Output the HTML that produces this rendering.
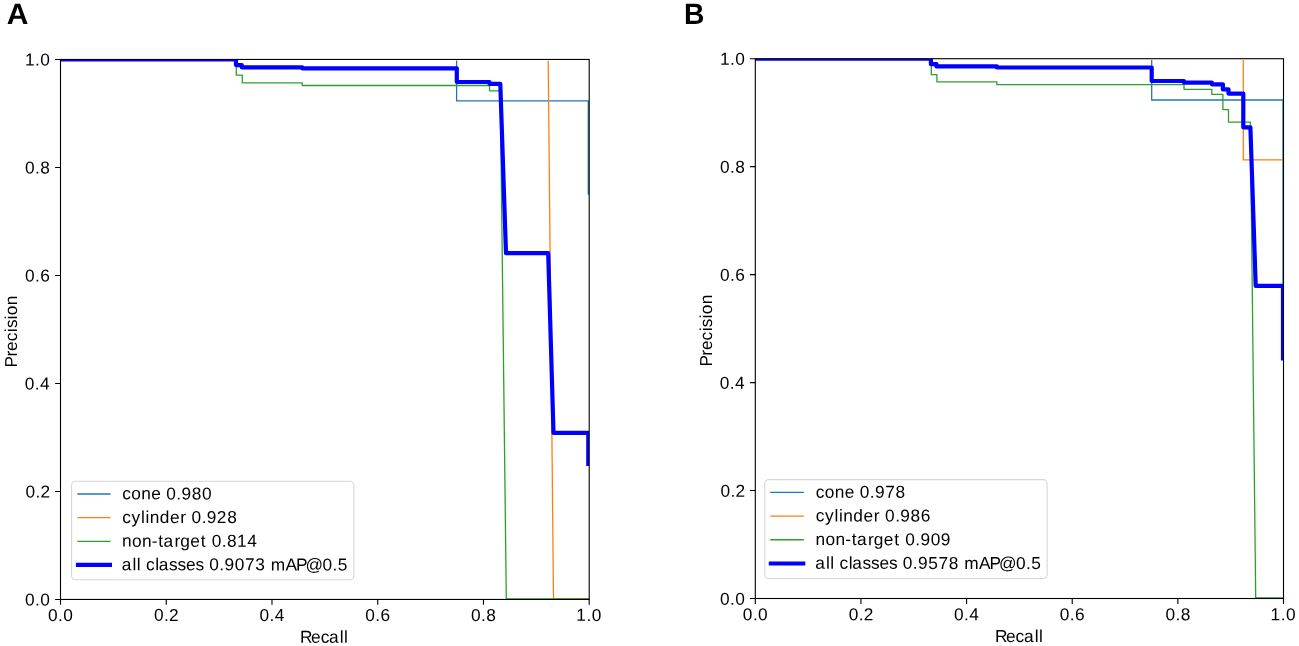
<!DOCTYPE html>
<html><head><meta charset="utf-8"><title>Precision-Recall curves</title>
<style>html,body{margin:0;padding:0;background:#fff;overflow:hidden;}svg{display:block;will-change:transform;}
text{font-family:"Liberation Sans", sans-serif;font-size:17.3px;fill:#000;text-rendering:geometricPrecision;}
text.let{font-weight:bold;font-size:29.4px;}</style></head>
<body><svg width="1299" height="646" viewBox="0 0 1299 646">
<rect width="1299" height="646" fill="#fff"/>
<clipPath id="clipA"><rect x="60.5" y="59.45" width="528.70" height="540.00"/></clipPath>
<clipPath id="cliptA"><rect x="60.5" y="60.50" width="528.70" height="538.95"/></clipPath>
<g clip-path="url(#cliptA)" fill="none" stroke-linejoin="round" stroke-linecap="square">
<polyline points="60.50,59.45 456.60,59.45 456.60,100.90 588.30,100.90 588.30,194.10" stroke="#1f77b4" stroke-width="1.3"/>
<polyline points="60.50,59.45 548.20,59.45 553.50,598.80 589.20,598.80" stroke="#ff7f0e" stroke-width="1.3"/>
<polyline points="60.50,59.45 236.30,59.45 236.30,75.20 242.30,75.20 242.30,82.90 302.20,82.90 302.20,85.50 489.50,85.50 489.50,90.80 500.30,90.80 506.30,598.80 589.20,598.80" stroke="#2ca02c" stroke-width="1.3"/>
</g>
<g clip-path="url(#clipA)" fill="none" stroke-linejoin="round" stroke-linecap="square">
<polyline points="60.50,59.45 236.00,59.45 236.00,65.10 241.80,65.10 241.80,67.30 302.20,67.30 302.20,68.30 456.80,68.30 456.80,82.00 489.50,82.00 489.50,83.80 500.30,83.80 506.00,253.10 548.20,253.10 553.50,432.85 588.30,432.85 588.30,463.90" stroke="#0000ff" stroke-width="4.2"/>
</g>
<rect x="60.5" y="59.45" width="528.70" height="540.00" fill="none" stroke="#000" stroke-width="1.1"/>
<path d="M60.50,599.45V604.85M60.5,599.45H55.10M166.24,599.45V604.85M60.5,491.45H55.10M271.98,599.45V604.85M60.5,383.45H55.10M377.72,599.45V604.85M60.5,275.45H55.10M483.46,599.45V604.85M60.5,167.45H55.10M589.20,599.45V604.85M60.5,59.45H55.10" stroke="#000" stroke-width="1.1" fill="none"/>
<rect x="71.6" y="481.2" width="282.2" height="98.6" rx="4" ry="4" fill="#fff" fill-opacity="0.8" stroke="#d6d6d6" stroke-width="1.1"/>
<path d="M78.0,494.00H109.9" stroke="#1f77b4" stroke-width="1.3" stroke-linecap="square" fill="none"/>
<path d="M78.0,517.65H109.9" stroke="#ff7f0e" stroke-width="1.3" stroke-linecap="square" fill="none"/>
<path d="M78.0,541.30H109.9" stroke="#2ca02c" stroke-width="1.3" stroke-linecap="square" fill="none"/>
<path d="M78.0,564.95H109.9" stroke="#0000ff" stroke-width="4.2" stroke-linecap="square" fill="none"/>
<clipPath id="clipB"><rect x="755.3" y="58.7" width="528.20" height="539.80"/></clipPath>
<clipPath id="cliptB"><rect x="755.3" y="60.00" width="528.20" height="538.50"/></clipPath>
<g clip-path="url(#cliptB)" fill="none" stroke-linejoin="round" stroke-linecap="square">
<polyline points="755.30,58.70 1151.70,58.70 1151.70,100.00 1283.00,100.00 1283.00,316.00" stroke="#1f77b4" stroke-width="1.3"/>
<polyline points="755.30,58.70 1243.30,58.70 1243.30,159.90 1283.50,159.90" stroke="#ff7f0e" stroke-width="1.3"/>
<polyline points="755.30,58.70 931.30,58.70 931.30,74.60 936.90,74.60 936.90,81.90 996.90,81.90 996.90,84.70 1184.00,84.70 1184.00,89.30 1211.80,89.30 1211.80,94.30 1222.90,94.30 1222.90,109.70 1228.50,109.70 1228.50,122.10 1250.40,122.10 1255.70,597.85 1283.50,597.85" stroke="#2ca02c" stroke-width="1.3"/>
</g>
<g clip-path="url(#clipB)" fill="none" stroke-linejoin="round" stroke-linecap="square">
<polyline points="755.30,58.70 930.90,58.70 930.90,64.20 936.50,64.20 936.50,66.40 996.90,66.40 996.90,67.50 1151.70,67.50 1151.70,81.00 1184.00,81.00 1184.00,82.60 1211.80,82.60 1211.80,84.30 1222.90,84.30 1222.90,89.40 1228.50,89.40 1228.50,93.60 1243.30,93.60 1243.30,127.30 1250.40,127.30 1255.70,285.90 1283.00,285.90 1283.00,358.30" stroke="#0000ff" stroke-width="4.2"/>
</g>
<rect x="755.3" y="58.7" width="528.20" height="539.80" fill="none" stroke="#000" stroke-width="1.1"/>
<path d="M755.30,598.5V603.90M755.3,598.50H749.90M860.94,598.5V603.90M755.3,490.54H749.90M966.58,598.5V603.90M755.3,382.58H749.90M1072.22,598.5V603.90M755.3,274.62H749.90M1177.86,598.5V603.90M755.3,166.66H749.90M1283.50,598.5V603.90M755.3,58.70H749.90" stroke="#000" stroke-width="1.1" fill="none"/>
<rect x="764.8" y="479.6" width="282.3" height="98.9" rx="4" ry="4" fill="#fff" fill-opacity="0.8" stroke="#d6d6d6" stroke-width="1.1"/>
<path d="M770.9,492.30H803.2" stroke="#1f77b4" stroke-width="1.3" stroke-linecap="square" fill="none"/>
<path d="M770.9,516.03H803.2" stroke="#ff7f0e" stroke-width="1.3" stroke-linecap="square" fill="none"/>
<path d="M770.9,539.76H803.2" stroke="#2ca02c" stroke-width="1.3" stroke-linecap="square" fill="none"/>
<path d="M770.9,563.49H803.2" stroke="#0000ff" stroke-width="4.2" stroke-linecap="square" fill="none"/>
<g transform="matrix(1,0.001,0,1,0,0)">
<text x="24.99 35.03 40.26" y="605.56">0.0</text>
<text x="48.06 58.09 63.32" y="620.84">0.0</text>
<text x="25.53 35.57 40.59" y="497.56">0.2</text>
<text x="154.07 164.10 169.12" y="620.73">0.2</text>
<text x="24.83 34.86 40.09" y="389.56">0.4</text>
<text x="259.45 269.49 274.72" y="620.63">0.4</text>
<text x="24.94 34.97 40.20" y="281.56">0.6</text>
<text x="365.25 375.29 380.51" y="620.52">0.6</text>
<text x="25.02 35.06 40.29" y="173.56">0.8</text>
<text x="471.03 481.07 486.30" y="620.42">0.8</text>
<text x="24.90 35.03 40.26" y="65.56">1.0</text>
<text x="576.31 586.44 591.67" y="620.31">1.0</text>
<text x="300.12 311.07 320.65 329.05 339.68 344.12" y="642.48">Recall</text>
<text transform="translate(17.00,330.88) rotate(-90)" x="-36.49 -25.70 -20.06 -10.48 -1.25 2.84 11.53 15.75 25.75" y="0.00">Precision</text>
<text class="let" transform="translate(17.50,23.88) scale(1.02,1)" x="-10.59" y="0">A</text>
<text x="122.25 131.25 141.25 151.24 160.94 166.30 176.34 181.51 191.74 201.92" y="499.23">cone 0.980</text>
<text x="122.25 131.57 140.93 145.39 149.82 159.84 169.96 180.37 186.24 191.60 201.64 206.82 216.84 227.23" y="522.87">cylinder 0.928</text>
<text x="122.09 132.03 142.02 151.87 158.33 163.39 174.42 180.22 190.35 200.74 206.32 211.68 221.72 226.95 237.03 247.31" y="546.51">non-target 0.814</text>
<text x="121.77 132.39 136.84 140.98 145.95 155.17 158.79 169.07 177.41 185.93 195.59 203.97 209.33 219.37 224.55 234.78 244.92 255.16 265.04 270.76 285.41 295.97 305.56 322.58 332.62 337.78" y="570.12">all classes 0.9073 mAP@0.5</text>
<text x="719.99 730.03 735.26" y="603.92">0.0</text>
<text x="742.86 752.89 758.12" y="619.54">0.0</text>
<text x="720.53 730.57 735.59" y="495.96">0.2</text>
<text x="848.77 858.80 863.82" y="619.44">0.2</text>
<text x="719.83 729.86 735.09" y="388.00">0.4</text>
<text x="954.05 964.09 969.32" y="619.33">0.4</text>
<text x="719.94 729.97 735.20" y="280.04">0.6</text>
<text x="1059.75 1069.79 1075.01" y="619.23">0.6</text>
<text x="720.02 730.06 735.29" y="172.08">0.8</text>
<text x="1165.43 1175.47 1180.70" y="619.12">0.8</text>
<text x="719.90 730.03 735.26" y="64.12">1.0</text>
<text x="1270.61 1280.74 1285.97" y="619.02">1.0</text>
<text x="995.07 1006.02 1015.60 1024.00 1034.63 1039.07" y="640.98">Recall</text>
<text transform="translate(711.80,329.34) rotate(-90)" x="-36.49 -25.70 -20.06 -10.48 -1.25 2.84 11.53 15.75 25.75" y="0.00">Precision</text>
<text class="let" transform="translate(694.50,23.21) scale(0.96,1)" x="-10.93" y="0">B</text>
<text x="815.75 824.75 834.75 844.74 854.44 859.80 869.84 875.01 885.21 895.42" y="496.84">cone 0.978</text>
<text x="815.75 825.07 834.43 838.89 843.32 853.34 863.46 873.87 879.74 885.10 895.14 900.32 910.55 920.73" y="520.56">cylinder 0.986</text>
<text x="815.59 825.53 835.52 845.37 851.83 856.89 867.92 873.72 883.85 894.24 899.82 905.18 915.22 920.40 930.63 940.76" y="544.28">non-target 0.909</text>
<text x="815.27 825.89 830.34 834.48 839.45 848.67 852.29 862.57 870.91 879.43 889.09 897.47 902.83 912.87 918.05 928.21 938.42 948.63 958.54 964.26 978.91 989.47 999.06 1016.08 1026.12 1031.28" y="567.96">all classes 0.9578 mAP@0.5</text>

</g>
</svg></body></html>
